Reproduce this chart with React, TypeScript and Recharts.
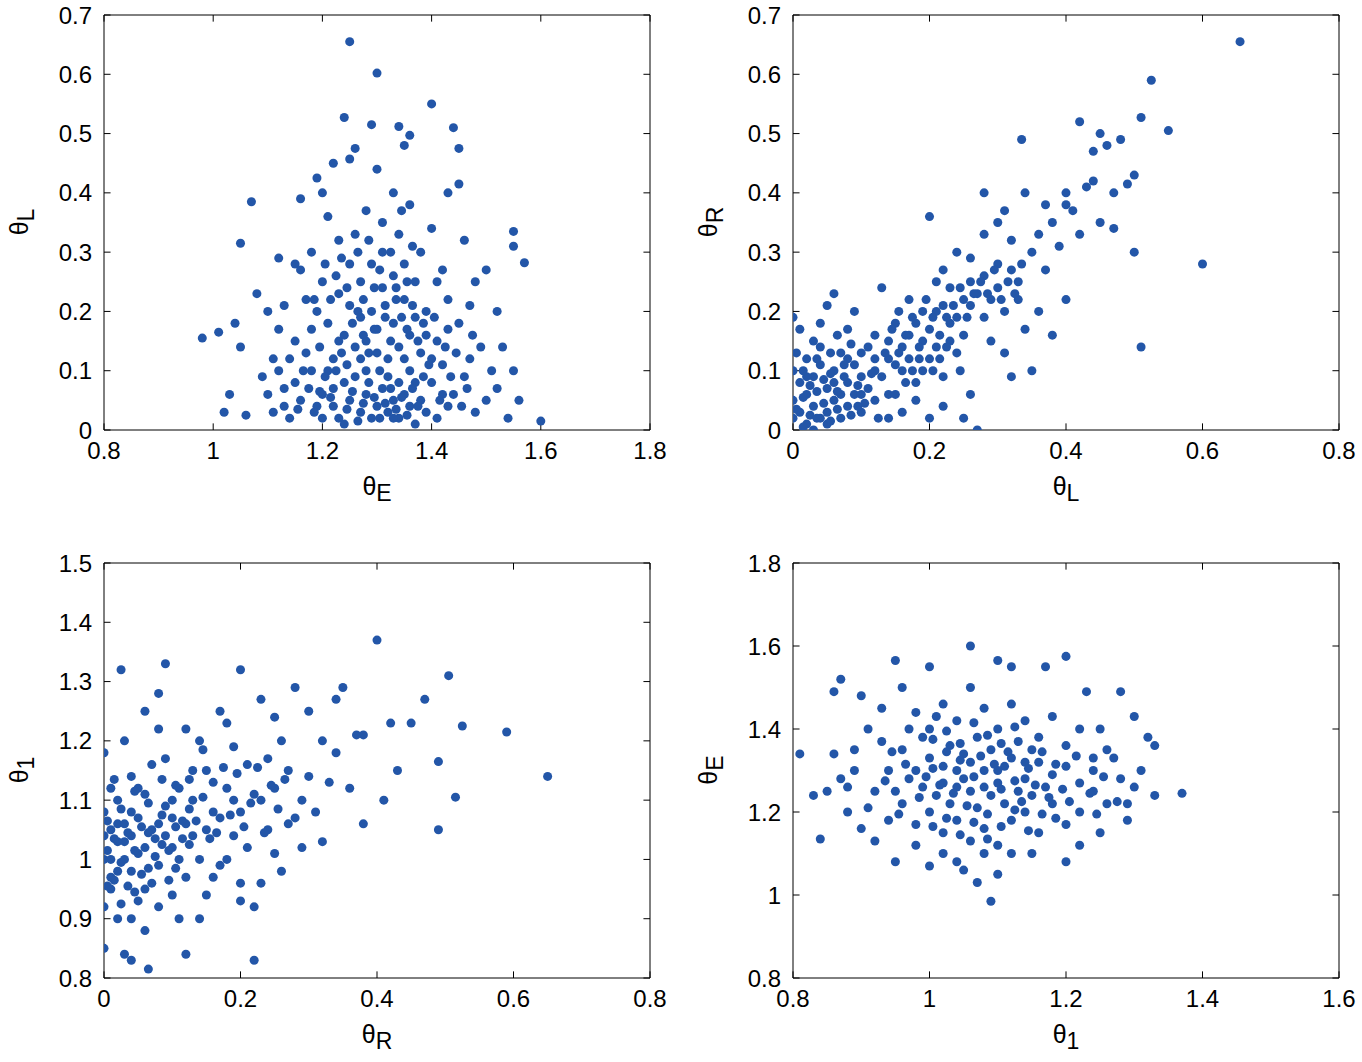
import React from 'react';
import { ScatterChart, Scatter, XAxis, YAxis, ZAxis, ReferenceArea, ReferenceLine } from 'recharts';

// θE vs θL
const thetaE_thetaL: [number, number][] = [
  [0.98, 0.155], [1.01, 0.165], [1.05, 0.315], [1.07, 0.385], [1.25, 0.655], [1.3, 0.602], [1.4, 0.55],
  [1.44, 0.51], [1.45, 0.475], [1.6, 0.015], [1.57, 0.282], [1.55, 0.335], [1.55, 0.31], [1.24, 0.527],
  [1.29, 0.515], [1.34, 0.512], [1.26, 0.475], [1.35, 0.48], [1.36, 0.497], [1.25, 0.457], [1.22, 0.45],
  [1.19, 0.425], [1.3, 0.44], [1.16, 0.39], [1.2, 0.4], [1.33, 0.4], [1.43, 0.4], [1.45, 0.415],
  [1.12, 0.29], [1.15, 0.28], [1.08, 0.23], [1.1, 0.2], [1.04, 0.18], [1.05, 0.14], [1.03, 0.06],
  [1.02, 0.03], [1.06, 0.025], [1.1, 0.06], [1.12, 0.1], [1.13, 0.04], [1.15, 0.15], [1.17, 0.22],
  [1.18, 0.3], [1.21, 0.36], [1.23, 0.32], [1.26, 0.33], [1.28, 0.37], [1.31, 0.35], [1.34, 0.33],
  [1.36, 0.38], [1.38, 0.3], [1.4, 0.34], [1.42, 0.27], [1.46, 0.32], [1.48, 0.25], [1.5, 0.27],
  [1.52, 0.2], [1.53, 0.14], [1.55, 0.1], [1.56, 0.05], [1.54, 0.02], [1.5, 0.05], [1.47, 0.12],
  [1.45, 0.18], [1.43, 0.22], [1.41, 0.15], [1.39, 0.2], [1.37, 0.25], [1.35, 0.22], [1.33, 0.18],
  [1.31, 0.24], [1.29, 0.2], [1.27, 0.25], [1.25, 0.21], [1.23, 0.23], [1.21, 0.18], [1.19, 0.2],
  [1.17, 0.13], [1.15, 0.08], [1.14, 0.02], [1.16, 0.05], [1.18, 0.1], [1.2, 0.06], [1.22, 0.12],
  [1.24, 0.08], [1.26, 0.14], [1.28, 0.1], [1.3, 0.13], [1.32, 0.09], [1.34, 0.14], [1.36, 0.1],
  [1.38, 0.13], [1.4, 0.08], [1.42, 0.11], [1.44, 0.06], [1.46, 0.09], [1.48, 0.03], [1.52, 0.07],
  [1.2, 0.02], [1.22, 0.04], [1.24, 0.01], [1.25, 0.05], [1.27, 0.03], [1.28, 0.06], [1.29, 0.02],
  [1.3, 0.04], [1.31, 0.07], [1.32, 0.03], [1.33, 0.05], [1.34, 0.02], [1.35, 0.06], [1.36, 0.04],
  [1.37, 0.01], [1.38, 0.05], [1.39, 0.03], [1.41, 0.02], [1.43, 0.04], [1.26, 0.09], [1.28, 0.15],
  [1.3, 0.17], [1.32, 0.12], [1.34, 0.08], [1.36, 0.16], [1.24, 0.16], [1.22, 0.07], [1.19, 0.04],
  [1.21, 0.1], [1.23, 0.15], [1.27, 0.19], [1.29, 0.28], [1.31, 0.3], [1.33, 0.26], [1.35, 0.28],
  [1.37, 0.19], [1.39, 0.16], [1.41, 0.25], [1.43, 0.17], [1.47, 0.21], [1.49, 0.14], [1.51, 0.1],
  [1.12, 0.17], [1.11, 0.12], [1.09, 0.09], [1.13, 0.21], [1.16, 0.27], [1.18, 0.17], [1.2, 0.25],
  [1.25, 0.28], [1.27, 0.12], [1.33, 0.02], [1.35, 0.12], [1.37, 0.08], [1.4, 0.12], [1.42, 0.06],
  [1.23, 0.02], [1.245, 0.035], [1.255, 0.065], [1.265, 0.015], [1.275, 0.045], [1.285, 0.08], [1.295, 0.055],
  [1.305, 0.02], [1.315, 0.045], [1.325, 0.07], [1.335, 0.035], [1.345, 0.055], [1.355, 0.025], [1.365, 0.07],
  [1.375, 0.04], [1.385, 0.09], [1.215, 0.055], [1.205, 0.09], [1.195, 0.065], [1.185, 0.03], [1.175, 0.07],
  [1.165, 0.1], [1.155, 0.035], [1.225, 0.1], [1.235, 0.13], [1.245, 0.11], [1.255, 0.18], [1.265, 0.2],
  [1.275, 0.16], [1.285, 0.13], [1.295, 0.17], [1.305, 0.1], [1.315, 0.19], [1.325, 0.15], [1.335, 0.22],
  [1.345, 0.19], [1.355, 0.17], [1.365, 0.21], [1.375, 0.15], [1.385, 0.18], [1.395, 0.11], [1.405, 0.19],
  [1.415, 0.05], [1.425, 0.14], [1.435, 0.09], [1.445, 0.13], [1.455, 0.04], [1.465, 0.07], [1.475, 0.16],
  [1.195, 0.14], [1.185, 0.22], [1.205, 0.28], [1.215, 0.22], [1.225, 0.26], [1.235, 0.29], [1.245, 0.24],
  [1.265, 0.3], [1.275, 0.22], [1.285, 0.32], [1.295, 0.24], [1.305, 0.27], [1.315, 0.21], [1.325, 0.3],
  [1.335, 0.24], [1.345, 0.37], [1.355, 0.25], [1.365, 0.31], [1.14, 0.12], [1.13, 0.07], [1.11, 0.03],
];

// θL vs θR
const thetaL_thetaR: [number, number][] = [
  [0.655, 0.655], [0.525, 0.59], [0.55, 0.505], [0.51, 0.527], [0.42, 0.52], [0.6, 0.28], [0.51, 0.14],
  [0.335, 0.49], [0.45, 0.5], [0.48, 0.49], [0.5, 0.43], [0.27, 0.0], [0.44, 0.47], [0.46, 0.48],
  [0.49, 0.415], [0.47, 0.4], [0.5, 0.3], [0.4, 0.38], [0.42, 0.33], [0.38, 0.35], [0.36, 0.33],
  [0.35, 0.3], [0.32, 0.32], [0.3, 0.35], [0.28, 0.4], [0.3, 0.28], [0.33, 0.25], [0.36, 0.2],
  [0.4, 0.22], [0.38, 0.16], [0.35, 0.1], [0.31, 0.13], [0.28, 0.19], [0.26, 0.25], [0.24, 0.3],
  [0.22, 0.27], [0.2, 0.36], [0.25, 0.22], [0.23, 0.18], [0.21, 0.2], [0.19, 0.15], [0.17, 0.22],
  [0.15, 0.18], [0.13, 0.24], [0.12, 0.16], [0.14, 0.12], [0.16, 0.1], [0.18, 0.08], [0.2, 0.12],
  [0.22, 0.09], [0.24, 0.13], [0.26, 0.06], [0.25, 0.02], [0.22, 0.04], [0.2, 0.02], [0.18, 0.05],
  [0.16, 0.03], [0.14, 0.06], [0.12, 0.1], [0.1, 0.13], [0.09, 0.2], [0.08, 0.17], [0.06, 0.23],
  [0.05, 0.21], [0.04, 0.18], [0.03, 0.15], [0.02, 0.12], [0.01, 0.17], [0.0, 0.19], [0.0, 0.1],
  [0.0, 0.05], [0.0, 0.02], [0.01, 0.08], [0.01, 0.03], [0.02, 0.06], [0.02, 0.01], [0.03, 0.09],
  [0.03, 0.04], [0.04, 0.11], [0.04, 0.02], [0.05, 0.07], [0.05, 0.03], [0.06, 0.1], [0.06, 0.05],
  [0.07, 0.13], [0.07, 0.02], [0.08, 0.08], [0.08, 0.04], [0.09, 0.11], [0.09, 0.06], [0.1, 0.09],
  [0.1, 0.03], [0.11, 0.07], [0.11, 0.14], [0.12, 0.05], [0.13, 0.09], [0.14, 0.02], [0.15, 0.11],
  [0.15, 0.06], [0.16, 0.14], [0.17, 0.12], [0.18, 0.18], [0.19, 0.1], [0.2, 0.17], [0.21, 0.14],
  [0.22, 0.21], [0.23, 0.24], [0.24, 0.19], [0.25, 0.16], [0.26, 0.21], [0.27, 0.23], [0.28, 0.26],
  [0.29, 0.22], [0.3, 0.24], [0.31, 0.2], [0.32, 0.27], [0.33, 0.22], [0.34, 0.17], [0.37, 0.27],
  [0.39, 0.31], [0.41, 0.37], [0.43, 0.41], [0.45, 0.35], [0.47, 0.34], [0.29, 0.15], [0.32, 0.09],
  [0.03, 0.0], [0.05, 0.01], [0.07, 0.06], [0.02, 0.09], [0.04, 0.14], [0.06, 0.08], [0.08, 0.12],
  [0.1, 0.06], [0.12, 0.12], [0.14, 0.15], [0.17, 0.16], [0.19, 0.2], [0.21, 0.25], [0.23, 0.15],
  [0.26, 0.29], [0.28, 0.33], [0.31, 0.37], [0.34, 0.4], [0.37, 0.38], [0.4, 0.4], [0.44, 0.42],
  [0.005, 0.035], [0.015, 0.055], [0.025, 0.025], [0.035, 0.065], [0.045, 0.045], [0.055, 0.015], [0.065, 0.035],
  [0.075, 0.09], [0.085, 0.025], [0.095, 0.075], [0.105, 0.045], [0.115, 0.095], [0.125, 0.02], [0.135, 0.13],
  [0.015, 0.1], [0.025, 0.075], [0.035, 0.12], [0.045, 0.085], [0.055, 0.13], [0.065, 0.16], [0.075, 0.11],
  [0.085, 0.145], [0.095, 0.04], [0.005, 0.13], [0.015, 0.005], [0.035, 0.02], [0.055, 0.095], [0.065, 0.065],
  [0.145, 0.17], [0.155, 0.2], [0.165, 0.16], [0.175, 0.19], [0.185, 0.14], [0.195, 0.22], [0.205, 0.19],
  [0.215, 0.16], [0.225, 0.19], [0.235, 0.21], [0.245, 0.24], [0.255, 0.19], [0.265, 0.23], [0.275, 0.25],
  [0.285, 0.23], [0.295, 0.27], [0.305, 0.22], [0.315, 0.25], [0.325, 0.23], [0.335, 0.28], [0.155, 0.13],
  [0.165, 0.08], [0.175, 0.1], [0.185, 0.12], [0.205, 0.1], [0.215, 0.12], [0.225, 0.14], [0.245, 0.1],
];

// θR vs θ1
const thetaR_theta1: [number, number][] = [
  [0.65, 1.14], [0.59, 1.215], [0.505, 1.31], [0.4, 1.37], [0.47, 1.27], [0.49, 1.05], [0.515, 1.105],
  [0.525, 1.225], [0.45, 1.23], [0.49, 1.165], [0.065, 0.815], [0.22, 0.83], [0.09, 1.33], [0.025, 1.32],
  [0.2, 1.32], [0.35, 1.29], [0.34, 1.27], [0.38, 1.21], [0.42, 1.23], [0.43, 1.15], [0.41, 1.1],
  [0.38, 1.06], [0.37, 1.21], [0.32, 1.2], [0.3, 1.25], [0.28, 1.29], [0.27, 1.15], [0.29, 1.02],
  [0.31, 1.08], [0.33, 1.13], [0.25, 1.24], [0.23, 1.27], [0.22, 1.11], [0.24, 1.05], [0.26, 0.98],
  [0.22, 0.92], [0.2, 0.96], [0.18, 1.0], [0.19, 1.19], [0.17, 1.25], [0.16, 1.08], [0.15, 1.15],
  [0.14, 1.2], [0.13, 1.04], [0.12, 0.97], [0.11, 0.9], [0.1, 1.02], [0.1, 1.1], [0.09, 1.17],
  [0.08, 1.22], [0.08, 1.06], [0.07, 0.96], [0.06, 0.88], [0.05, 0.93], [0.05, 1.01], [0.04, 1.08],
  [0.04, 1.14], [0.03, 1.2], [0.03, 1.03], [0.02, 0.98], [0.02, 0.9], [0.01, 0.95], [0.01, 1.05],
  [0.01, 1.12], [0.0, 1.0], [0.0, 1.08], [0.0, 0.92], [0.0, 1.18], [0.0, 0.85], [0.03, 0.84],
  [0.04, 0.83], [0.12, 0.84], [0.02, 1.06], [0.03, 1.0], [0.04, 1.04], [0.05, 1.07], [0.06, 1.02],
  [0.06, 1.11], [0.07, 1.05], [0.08, 0.99], [0.09, 1.04], [0.1, 1.07], [0.11, 1.12], [0.12, 1.06],
  [0.13, 1.1], [0.14, 1.0], [0.15, 1.05], [0.16, 1.13], [0.17, 1.07], [0.18, 1.12], [0.19, 1.04],
  [0.2, 1.08], [0.21, 1.16], [0.21, 1.02], [0.23, 1.1], [0.25, 1.12], [0.26, 1.2], [0.28, 1.07],
  [0.3, 1.14], [0.32, 1.03], [0.34, 1.18], [0.36, 1.12], [0.02, 1.03], [0.04, 0.98], [0.05, 1.12],
  [0.07, 1.16], [0.09, 1.09], [0.11, 1.0], [0.13, 1.15], [0.15, 0.94], [0.17, 0.99], [0.19, 1.1],
  [0.08, 1.28], [0.06, 1.25], [0.12, 1.22], [0.18, 1.23], [0.24, 1.17], [0.27, 1.06], [0.01, 1.0],
  [0.02, 1.1], [0.03, 1.06], [0.0, 1.04], [0.01, 0.97], [0.04, 0.9], [0.06, 0.95], [0.08, 0.92],
  [0.1, 0.94], [0.14, 0.9], [0.16, 0.97], [0.2, 0.93], [0.23, 0.96], [0.25, 1.01], [0.29, 1.1],
  [0.005, 1.015], [0.015, 1.035], [0.025, 0.995], [0.035, 1.045], [0.045, 1.015], [0.055, 1.055], [0.065, 0.985],
  [0.075, 1.035], [0.085, 1.075], [0.095, 1.015], [0.105, 1.055], [0.115, 1.035], [0.125, 1.085], [0.135, 1.065],
  [0.015, 0.965], [0.025, 1.085], [0.035, 0.955], [0.045, 1.115], [0.055, 0.975], [0.065, 1.095], [0.075, 1.005],
  [0.085, 1.135], [0.095, 0.965], [0.105, 1.125], [0.115, 1.065], [0.125, 1.025], [0.005, 1.065], [0.015, 1.135],
  [0.145, 1.105], [0.155, 1.035], [0.165, 1.045], [0.175, 1.155], [0.185, 1.075], [0.195, 1.145], [0.205, 1.055],
  [0.215, 1.095], [0.225, 1.155], [0.235, 1.045], [0.245, 1.125], [0.255, 1.085], [0.265, 1.135], [0.005, 0.955],
  [0.025, 0.925], [0.045, 0.945], [0.065, 1.045], [0.085, 1.025], [0.105, 0.985], [0.125, 1.135], [0.145, 1.185],
];

// θ1 vs θE
const theta1_thetaE: [number, number][] = [
  [1.37, 1.245], [0.81, 1.34], [0.84, 1.135], [1.09, 0.985], [1.06, 1.6], [1.2, 1.575], [0.87, 1.52],
  [1.33, 1.36], [0.83, 1.24], [0.85, 1.25], [0.86, 1.49], [0.9, 1.48], [0.95, 1.565], [1.0, 1.55],
  [1.1, 1.565], [1.12, 1.55], [1.17, 1.55], [1.23, 1.49], [1.28, 1.49], [1.3, 1.43], [1.32, 1.38],
  [1.31, 1.3], [1.33, 1.24], [1.29, 1.18], [1.25, 1.15], [1.22, 1.12], [1.2, 1.08], [1.15, 1.1],
  [1.1, 1.05], [1.07, 1.03], [1.05, 1.06], [1.02, 1.1], [0.98, 1.12], [0.95, 1.08], [0.92, 1.13],
  [0.9, 1.16], [0.88, 1.2], [0.87, 1.28], [0.89, 1.35], [0.91, 1.4], [0.93, 1.45], [0.96, 1.5],
  [0.98, 1.44], [1.0, 1.4], [1.02, 1.46], [1.04, 1.42], [1.06, 1.5], [1.08, 1.45], [1.1, 1.4],
  [1.12, 1.46], [1.14, 1.42], [1.16, 1.38], [1.18, 1.43], [1.2, 1.36], [1.22, 1.4], [1.24, 1.33],
  [1.26, 1.35], [1.28, 1.28], [1.26, 1.22], [1.24, 1.25], [1.22, 1.2], [1.2, 1.17], [1.18, 1.22],
  [1.16, 1.15], [1.14, 1.2], [1.12, 1.18], [1.1, 1.12], [1.08, 1.16], [1.06, 1.13], [1.04, 1.18],
  [1.02, 1.15], [1.0, 1.2], [0.98, 1.17], [0.96, 1.22], [0.94, 1.18], [0.92, 1.25], [0.94, 1.3],
  [0.96, 1.35], [0.98, 1.3], [1.0, 1.33], [1.02, 1.27], [1.04, 1.3], [1.06, 1.25], [1.08, 1.3],
  [1.1, 1.27], [1.12, 1.33], [1.14, 1.28], [1.16, 1.32], [1.18, 1.29], [1.2, 1.31], [1.22, 1.27],
  [1.24, 1.3], [1.01, 1.24], [1.03, 1.22], [1.05, 1.28], [1.07, 1.21], [1.09, 1.24], [1.11, 1.22],
  [1.13, 1.25], [1.15, 1.24], [1.17, 1.26], [0.99, 1.26], [0.97, 1.28], [0.95, 1.25], [1.03, 1.36],
  [1.05, 1.34], [1.07, 1.38], [1.09, 1.35], [1.11, 1.31], [1.13, 1.37], [1.15, 1.35], [0.99, 1.38],
  [0.97, 1.4], [1.01, 1.43], [1.25, 1.4], [1.27, 1.33], [1.29, 1.22], [1.3, 1.26], [0.89, 1.3],
  [0.86, 1.34], [0.88, 1.26], [0.91, 1.21], [0.93, 1.37], [1.04, 1.08], [1.12, 1.1], [1.0, 1.07],
  [1.08, 1.1], [1.06, 1.32], [1.04, 1.26], [1.1, 1.3], [1.08, 1.26], [1.02, 1.31], [1.14, 1.32],
  [0.985, 1.235], [0.995, 1.285], [1.005, 1.305], [1.015, 1.265], [1.025, 1.345], [1.035, 1.245], [1.045, 1.325],
  [1.055, 1.215], [1.065, 1.285], [1.075, 1.335], [1.085, 1.195], [1.095, 1.315], [1.105, 1.255], [1.115, 1.345],
  [1.125, 1.275], [1.135, 1.225], [1.145, 1.305], [1.155, 1.265], [1.165, 1.345], [1.175, 1.235], [1.185, 1.315],
  [1.195, 1.255], [1.205, 1.225], [1.215, 1.335], [0.965, 1.315], [0.955, 1.195], [0.945, 1.345], [0.935, 1.275],
  [1.005, 1.375], [1.025, 1.395], [1.045, 1.365], [1.065, 1.415], [1.085, 1.385], [1.105, 1.365], [1.125, 1.405],
  [1.005, 1.165], [1.025, 1.185], [1.045, 1.145], [1.065, 1.175], [1.085, 1.135], [1.105, 1.165], [1.125, 1.205],
  [1.145, 1.155], [1.165, 1.195], [1.185, 1.185], [1.235, 1.245], [1.245, 1.195], [1.255, 1.285], [1.275, 1.225],
];

const color = '#2356a8';
const tickFont = { fontSize: 24, fill: '#000', fontFamily: 'Liberation Sans, Arial, sans-serif' };

interface PanelProps {
  data: [number, number][];
  left: number;
  top: number;
  xDomain: [number, number];
  xTicks: number[];
  yDomain: [number, number];
  yTicks: number[];
  xLabel: string;
  xSub: string;
  yLabel: string;
  ySub: string;
}

function Panel({ data, left, top, xDomain, xTicks, yDomain, yTicks, xLabel, xSub, yLabel, ySub }: PanelProps) {
  const pts = data.map(([x, y]) => ({ x, y }));
  const tx = (xDomain[1] - xDomain[0]) * 0.012;
  const ty = (yDomain[1] - yDomain[0]) * 0.016;
  return (
    <div style={{ position: 'absolute', left, top, width: 680, height: 520 }}>
      <ScatterChart width={680} height={520} margin={{ top: 15, right: 30, bottom: 30, left: 44 }}>
        <XAxis type="number" dataKey="x" domain={xDomain} ticks={xTicks} height={60} tick={tickFont}
          tickLine={false} axisLine={false} tickMargin={6} allowDataOverflow />
        <YAxis type="number" dataKey="y" domain={yDomain} ticks={yTicks} width={60} tick={tickFont}
          tickLine={false} axisLine={false} tickMargin={6} allowDataOverflow />
        <ZAxis range={[24, 24]} />
        {xTicks.map((t) => (
          <ReferenceLine key={'xb' + t} segment={[{ x: t, y: yDomain[0] }, { x: t, y: yDomain[0] + ty }]} stroke="#000" />
        ))}
        {xTicks.map((t) => (
          <ReferenceLine key={'xt' + t} segment={[{ x: t, y: yDomain[1] }, { x: t, y: yDomain[1] - ty }]} stroke="#000" />
        ))}
        {yTicks.map((t) => (
          <ReferenceLine key={'yl' + t} segment={[{ x: xDomain[0], y: t }, { x: xDomain[0] + tx, y: t }]} stroke="#000" />
        ))}
        {yTicks.map((t) => (
          <ReferenceLine key={'yr' + t} segment={[{ x: xDomain[1], y: t }, { x: xDomain[1] - tx, y: t }]} stroke="#000" />
        ))}
        <Scatter data={pts} fill={color} isAnimationActive={false} />
        <ReferenceArea x1={xDomain[0]} x2={xDomain[1]} y1={yDomain[0]} y2={yDomain[1]} fill="none" stroke="#000" strokeWidth={1} ifOverflow="visible" />
      </ScatterChart>
      <div style={{ position: 'absolute', left: 104, width: 546, top: 472, textAlign: 'center', fontSize: 25, lineHeight: '28px', fontFamily: 'Liberation Sans, Arial, sans-serif' }}>
        {xLabel}<sub style={{ fontSize: 23 }}>{xSub}</sub>
      </div>
      <div style={{ position: 'absolute', left: 22, top: 222, width: 0, height: 0 }}>
        <div style={{ position: 'absolute', transform: 'translate(-50%, -50%) rotate(-90deg)', whiteSpace: 'nowrap', fontSize: 25, fontFamily: 'Liberation Sans, Arial, sans-serif' }}>
          {yLabel}<sub style={{ fontSize: 23 }}>{ySub}</sub>
        </div>
      </div>
    </div>
  );
}

export default function App() {
  return (
    <div style={{ position: 'absolute', left: 0, top: 0, width: 1362, height: 1062, background: '#fff' }}>
      <Panel data={thetaE_thetaL} left={0} top={0} xDomain={[0.8, 1.8]} xTicks={[0.8, 1, 1.2, 1.4, 1.6, 1.8]}
        yDomain={[0, 0.7]} yTicks={[0, 0.1, 0.2, 0.3, 0.4, 0.5, 0.6, 0.7]} xLabel="θ" xSub="E" yLabel="θ" ySub="L" />
      <Panel data={thetaL_thetaR} left={689} top={0} xDomain={[0, 0.8]} xTicks={[0, 0.2, 0.4, 0.6, 0.8]}
        yDomain={[0, 0.7]} yTicks={[0, 0.1, 0.2, 0.3, 0.4, 0.5, 0.6, 0.7]} xLabel="θ" xSub="L" yLabel="θ" ySub="R" />
      <Panel data={thetaR_theta1} left={0} top={548} xDomain={[0, 0.8]} xTicks={[0, 0.2, 0.4, 0.6, 0.8]}
        yDomain={[0.8, 1.5]} yTicks={[0.8, 0.9, 1, 1.1, 1.2, 1.3, 1.4, 1.5]} xLabel="θ" xSub="R" yLabel="θ" ySub="1" />
      <Panel data={theta1_thetaE} left={689} top={548} xDomain={[0.8, 1.6]} xTicks={[0.8, 1, 1.2, 1.4, 1.6]}
        yDomain={[0.8, 1.8]} yTicks={[0.8, 1, 1.2, 1.4, 1.6, 1.8]} xLabel="θ" xSub="1" yLabel="θ" ySub="E" />
    </div>
  );
}
